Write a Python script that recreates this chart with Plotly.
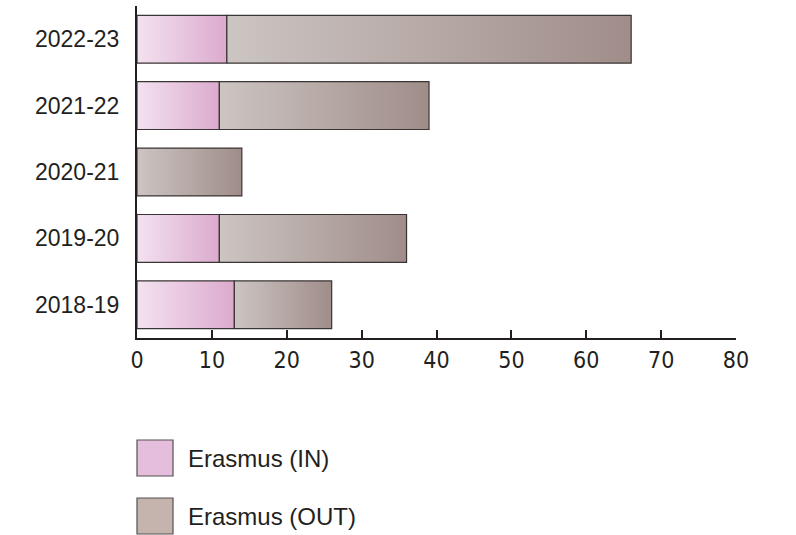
import plotly.graph_objects as go

# ---- data ----
years = ["2018-19", "2019-20", "2020-21", "2021-22", "2022-23"]
erasmus_in = [13, 11, 0, 11, 12]
erasmus_out = [13, 25, 14, 28, 54]
series_names = ["Erasmus (IN)", "Erasmus (OUT)"]
x_ticks = [0, 10, 20, 30, 40, 50, 60, 70, 80]

# ---- styles ----
IN_GRAD = [[0, "#f3e2f0"], [1, "#dcaace"]]
OUT_GRAD = [[0, "#ccc5c2"], [1, "#a08d8a"]]
IN_SWATCH = "#e4bedc"
OUT_SWATCH = "#c5b3ad"
EDGE = "#3a3434"
HALF = 0.36  # half bar thickness in category units

fig = go.Figure()


def add_segment(base, length, yi, grad):
    if length <= 0:
        return
    x0, x1 = base, base + length
    fig.add_trace(go.Scatter(
        x=[x0, x1, x1, x0, x0],
        y=[yi - HALF, yi - HALF, yi + HALF, yi + HALF, yi - HALF],
        mode="lines",
        fill="toself",
        fillgradient=dict(type="horizontal", colorscale=grad),
        line=dict(color=EDGE, width=1.2),
        showlegend=False,
        hoverinfo="skip",
    ))


for i, yr in enumerate(years):
    add_segment(0, erasmus_in[i], i, IN_GRAD)
    add_segment(erasmus_in[i], erasmus_out[i], i, OUT_GRAD)

# ---- legend (drawn manually) ----
def px_x(px):
    return (px - 137) / 599.0


def px_y(py):
    return (338 - py) / 332.0


for (top, bot, col, name) in [(440, 476, IN_SWATCH, series_names[0]),
                              (498, 534, OUT_SWATCH, series_names[1])]:
    fig.add_shape(type="rect", xref="paper", yref="paper",
                  x0=px_x(137), x1=px_x(173), y0=px_y(bot), y1=px_y(top),
                  fillcolor=col, line=dict(color="#555050", width=1.2))
    fig.add_annotation(xref="paper", yref="paper",
                       x=px_x(186), y=px_y((top + bot) / 2),
                       text=name, showarrow=False, xanchor="left", yanchor="middle",
                       font=dict(family="Liberation Sans, Arial, sans-serif", size=24, color="#231f20"))

fig.update_layout(
    width=796, height=535,
    margin=dict(l=137, r=60, t=6, b=197),
    plot_bgcolor="white", paper_bgcolor="white",
    showlegend=False,
    xaxis=dict(
        range=[0, 80], tickvals=x_ticks, ticktext=[str(t) for t in x_ticks],
        showgrid=False, zeroline=False,
        showline=True, linecolor="#231f20", linewidth=2,
        ticks="inside", ticklen=8, tickwidth=1.5, tickcolor="#231f20",
        tickfont=dict(family="DejaVu Sans Condensed, Liberation Sans Narrow, Arial Narrow, sans-serif",
                      size=23, color="#231f20"),
        automargin=False,
        fixedrange=True,
    ),
    yaxis=dict(
        range=[-0.5, 4.5], tickvals=list(range(len(years))), ticktext=years,
        showgrid=False, zeroline=False,
        showline=True, linecolor="#231f20", linewidth=2,
        ticks="", ticklabelstandoff=11,
        tickfont=dict(family="Liberation Sans, Arial, sans-serif", size=23, color="#231f20"),
        automargin=False,
        fixedrange=True,
    ),
)

fig.write_html("out.html", post_script="document.body.style.margin='0';",
               config={"displayModeBar": False})
